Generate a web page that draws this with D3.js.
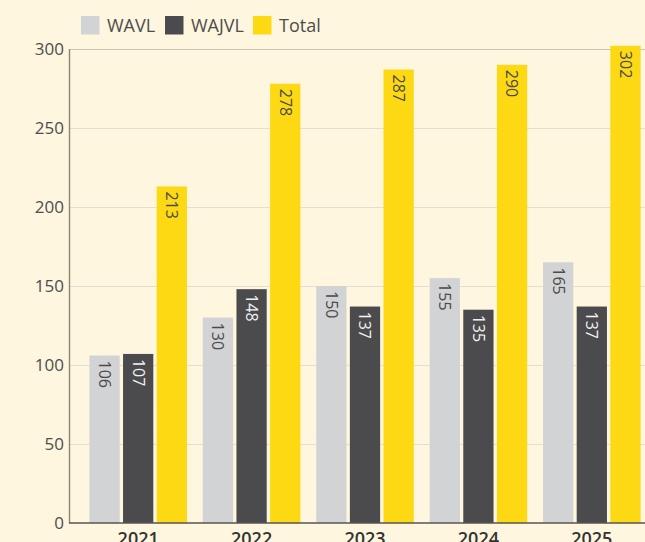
<!DOCTYPE html>
<html>
<head>
<meta charset="utf-8">
<script src="https://cdn.jsdelivr.net/npm/d3@7"></script>
<style>
  body { margin: 0; background: #fef6de; }
  svg { display: block; font-family: "Open Sans", sans-serif; }
</style>
</head>
<body>
<svg id="chart" width="645" height="542"></svg>
<script>
// data
var years = ['2021', '2022', '2023', '2024', '2025']
var series = ['WAVL', 'WAJVL', 'Total']
var wavl = [106, 130, 150, 155, 165]
var wajvl = [107, 148, 137, 135, 137]
var total = [213, 278, 287, 290, 302]
var yTicks = [0, 50, 100, 150, 200, 250, 300]

var colors = {'WAVL': '#d2d3d5', 'WAJVL': '#4b4b4d', 'Total': '#fdd914'}
var labelColors = {'WAVL': '#4a4a4a', 'WAJVL': '#f2f2f2', 'Total': '#4a4a4a'}

var rows = years.map(function (y, i) {
    return {year: y, values: [
        {key: 'WAVL', v: wavl[i]},
        {key: 'WAJVL', v: wajvl[i]},
        {key: 'Total', v: total[i]}
    ]}
})

var svg = d3.select('#chart')
var plotLeft = 69, plotTop = 49, plotBottom = 523

var x = d3.scaleBand().domain(years).range([plotLeft, 661]).paddingInner(0.14).paddingOuter(0.18)
var xs = d3.scaleBand().domain(series).range([0, x.bandwidth()]).paddingInner(0.1)
var y = d3.scaleLinear().domain([0, 300]).range([plotBottom, plotTop])

// grid
svg.append('g').selectAll('line').data(yTicks.filter(function (d) { return d > 0 }))
    .enter().append('line')
    .attr('x1', plotLeft).attr('x2', 645)
    .attr('y1', function (d) { return y(d) + 0.5 })
    .attr('y2', function (d) { return y(d) + 0.5 })
    .attr('stroke', function (d) { return d == 300 ? '#c9c5bb' : '#e2ded4' })
    .attr('stroke-width', 1.2)

// y axis labels
var yAxis = d3.axisLeft(y).tickValues(yTicks).tickSize(0).tickPadding(5)
var gy = svg.append('g').attr('transform', 'translate(' + plotLeft + ',0)').call(yAxis)
gy.select('.domain').remove()
gy.selectAll('text').attr('font-size', 17).attr('fill', '#4d4d4d')
    .attr('font-family', '"Open Sans", sans-serif')

// bars
var groups = svg.append('g').selectAll('g').data(rows).enter().append('g')
    .attr('transform', function (d) { return 'translate(' + x(d.year) + ',0)' })

groups.selectAll('rect').data(function (d) { return d.values }).enter().append('rect')
    .attr('x', function (d) { return xs(d.key) })
    .attr('width', xs.bandwidth())
    .attr('y', function (d) { return y(d.v) })
    .attr('height', function (d) { return y(0) - y(d.v) })
    .attr('fill', function (d) { return colors[d.key] })

groups.selectAll('text').data(function (d) { return d.values }).enter().append('text')
    .attr('transform', function (d) {
        return 'translate(' + (xs(d.key) + xs.bandwidth() / 2) + ',' + (y(d.v) + 5) + ') rotate(90)'
    })
    .attr('dy', '0.35em')
    .attr('font-size', 16)
    .attr('fill', function (d) { return labelColors[d.key] })
    .text(function (d) { return d.v })

// axis lines
svg.append('line').attr('x1', plotLeft + 0.5).attr('x2', plotLeft + 0.5).attr('y1', plotTop).attr('y2', plotBottom)
    .attr('stroke', '#8a8679').attr('stroke-width', 1.4)
svg.append('line').attr('x1', plotLeft).attr('x2', 645).attr('y1', plotBottom).attr('y2', plotBottom)
    .attr('stroke', '#555').attr('stroke-width', 1.6)

// x labels
var xAxis = d3.axisBottom(x).tickSize(0).tickPadding(9)
var gx = svg.append('g').attr('transform', 'translate(0,' + plotBottom + ')').call(xAxis)
gx.select('.domain').remove()
gx.selectAll('text').attr('font-size', 18).attr('font-weight', 600).attr('fill', '#333')
    .attr('font-family', '"Open Sans", sans-serif')

// legend
var lx = [81, 165, 253]
var legend = svg.append('g').selectAll('g').data(series).enter().append('g')
    .attr('transform', function (d, i) { return 'translate(' + lx[i] + ',16)' })
legend.append('rect').attr('width', 18.5).attr('height', 18.5)
    .attr('fill', function (d) { return colors[d] })
legend.append('text').attr('x', 26).attr('y', 15.5)
    .attr('font-size', 18).attr('fill', '#4d4d4d')
    .text(function (d) { return d })
</script>
</body>
</html>
